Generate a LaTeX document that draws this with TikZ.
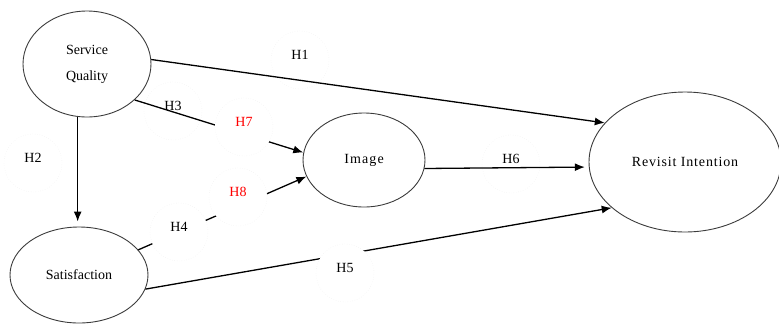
\documentclass[tikz,border=0pt]{standalone}
\usepackage{fontspec}
\setmainfont{Liberation Serif}
\usetikzlibrary{arrows.meta,shapes.geometric}
\definecolor{HypRed}{RGB}{255,0,0}
\definecolor{EdgeGray}{RGB}{60,60,60}

\begin{document}
\begin{tikzpicture}[x=1pt, y=-1pt,
  font=\rmfamily\fontsize{14}{17}\selectfont,
  construct/.style={draw=EdgeGray, line width=0.9pt, ellipse, inner sep=0pt},
  hyp/.style={circle, draw=black!8, dotted, minimum size=58pt, inner sep=0pt, text depth=10pt},
  cut/.style={hyp, fill=white},
  link/.style={line width=1.3pt, -{Latex[length=10pt,width=8pt]}}]

  \useasboundingbox (0,0) rectangle (779,325);

  % --- Constructs ---
  \node[construct, minimum width=128pt, minimum height=106pt, align=center]
    (sq) at (87,64) {Service\\[9pt]Quality};
  \node[construct, minimum width=138pt, minimum height=96pt]
    (sat) at (79,275) {Satisfaction};
  \node[construct, minimum width=122pt, minimum height=94pt]
    (img) at (364,160) {\addfontfeatures{LetterSpace=8}Image};
  \node[construct, minimum width=192pt, minimum height=140pt]
    (ri) at (685,162) {\addfontfeatures{LetterSpace=6}Revisit Intention};

  % --- Labels the lines run over ---
  \node[hyp] (h1) at (300,60) {H1};
  \node[hyp] (h2) at (33,163) {H2};
  \node[hyp] (h3) at (173,111) {H3};
  \node[hyp] (h6) at (511,164) {H6};

  % --- Paths ---
  \draw[link] (sq.4) -- (ri.154);
  \draw[link, shorten >=5pt] (sq.260) -- (sq.260 |- sat.north);
  \draw[link] (sq.323) -- (img.173);
  \draw[link] (sat.23) -- (img.196);
  \draw[link] (sat.-12) -- (ri.212);
  \draw[link, shorten >=4pt] (img.-8) -- (ri.183);

  % --- Labels that break the lines ---
  \node[cut, text=HypRed] (h7) at (244,127) {H7};
  \node[cut] (h4) at (179,232) {H4};
  \node[cut, text=HypRed] (h8) at (238,197) {H8};
  \node[cut] (h5) at (345,273) {H5};

\end{tikzpicture}
\end{document}
